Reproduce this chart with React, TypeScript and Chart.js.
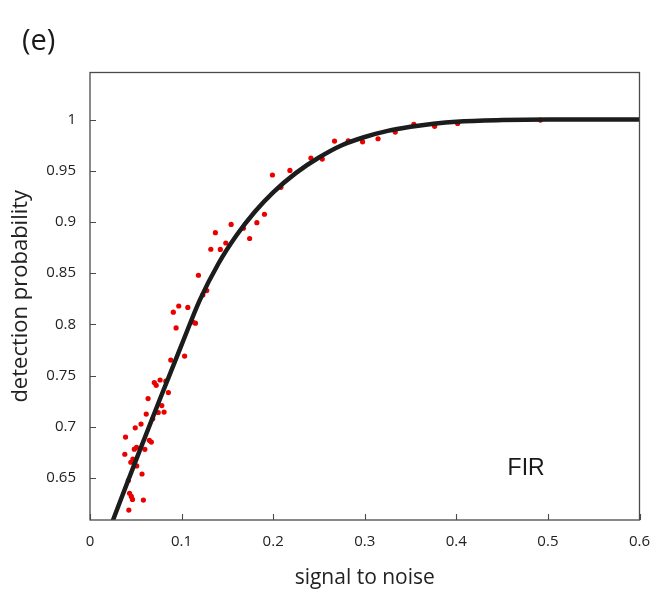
import React, { useEffect, useRef } from "react";
import { Chart, registerables } from "chart.js";
Chart.register(...registerables);

// ---- data ----
const curveX = [0.02, 0.026, 0.05, 0.075, 0.1, 0.12, 0.14, 0.16, 0.18, 0.2, 0.225, 0.25, 0.275, 0.3, 0.325, 0.35, 0.375, 0.4, 0.45, 0.5, 0.6];
const curveY = [0.597, 0.611, 0.667, 0.724, 0.78, 0.824, 0.859, 0.887, 0.91, 0.929, 0.948, 0.963, 0.975, 0.983, 0.989, 0.993, 0.996, 0.998, 0.9995, 1.0, 1.0];

const dotX = [
  0.3536, 0.3763, 0.4014, 0.4918, 0.3333, 0.3145, 0.2976, 0.282, 0.267, 0.2536,
  0.2412, 0.2183, 0.2084, 0.1992, 0.1905, 0.1822, 0.1743, 0.1675, 0.1541, 0.1483,
  0.1369, 0.1423, 0.1319, 0.1184, 0.1275, 0.1232, 0.0969, 0.091, 0.1068, 0.112,
  0.1151, 0.094, 0.1033, 0.0882, 0.0702, 0.0723, 0.0765, 0.0828, 0.0856, 0.0634,
  0.0784, 0.0614, 0.0745, 0.0809, 0.0685, 0.0557, 0.0494, 0.0388, 0.0648, 0.067,
  0.0508, 0.0484, 0.0599, 0.038, 0.0468, 0.0446, 0.051, 0.0568, 0.0419, 0.0432,
  0.0451, 0.0464, 0.0583, 0.0424,
];
const dotY = [
  0.9953, 0.9934, 0.9963, 0.9995, 0.9878, 0.9813, 0.9783, 0.9793, 0.979, 0.9615,
  0.9624, 0.9504, 0.9339, 0.9459, 0.9076, 0.8993, 0.8839, 0.8939, 0.8976, 0.8795,
  0.8896, 0.8732, 0.8734, 0.848, 0.833, 0.8288, 0.818, 0.8119, 0.8166, 0.8024,
  0.8012, 0.7966, 0.7691, 0.7652, 0.7432, 0.7405, 0.7457, 0.7446, 0.7334, 0.7276,
  0.7207, 0.7124, 0.714, 0.7144, 0.7078, 0.7027, 0.699, 0.69, 0.6868, 0.6851,
  0.68, 0.6782, 0.678, 0.6732, 0.6685, 0.6654, 0.6618, 0.6539, 0.6476, 0.6351,
  0.632, 0.6291, 0.6285, 0.6187,
];

const xTicks = [0, 0.1, 0.2, 0.3, 0.4, 0.5, 0.6];
const yTicks = [0.65, 0.7, 0.75, 0.8, 0.85, 0.9, 0.95, 1];
const xRange = [0, 0.6];
const yRange = [0.609, 1.046];

const xLabel = "signal to noise";
const yLabel = "detection probability";
const panelLabel = "(e)";
const annotText = "FIR";
const annotPos = [0.456, 0.6595];

const FONT = "'Open Sans', 'Noto Sans', sans-serif";

const framePlugin = {
  id: "matlabFrame",
  afterDatasetsDraw(chart: any) {
    const { ctx, chartArea: a, scales } = chart;
    const xs = scales.x;
    const ys = scales.y;
    ctx.save();
    ctx.strokeStyle = "#4a4a4a";
    ctx.lineWidth = 1.3;
    ctx.strokeRect(a.left, a.top, a.right - a.left, a.bottom - a.top);
    ctx.lineWidth = 1.1;
    ctx.beginPath();
    xs.ticks.forEach((t: any) => {
      const px = Math.round(xs.getPixelForValue(t.value)) + 0.5;
      ctx.moveTo(px, a.bottom);
      ctx.lineTo(px, a.bottom - 6);
    });
    ys.ticks.forEach((t: any) => {
      const py = Math.round(ys.getPixelForValue(t.value)) + 0.5;
      ctx.moveTo(a.left, py);
      ctx.lineTo(a.left + 6, py);
    });
    ctx.stroke();
    ctx.restore();
  },
  afterDraw(chart: any) {
    const { ctx, scales } = chart;
    ctx.save();
    ctx.fillStyle = "#1a1a1a";
    ctx.font = `29px ${FONT}`;
    ctx.textBaseline = "middle";
    ctx.textAlign = "left";
    ctx.fillText(panelLabel, 22, 42);
    ctx.font = `23px 'Liberation Sans', Arial, sans-serif`;
    ctx.fillText(annotText, scales.x.getPixelForValue(annotPos[0]), scales.y.getPixelForValue(annotPos[1]));
    ctx.restore();
  },
};

const fmt = (v: number) => String(parseFloat(Number(v).toFixed(2)));

export default function App() {
  const ref = useRef<HTMLCanvasElement | null>(null);
  useEffect(() => {
    if (!ref.current) return;
    const chart = new Chart(ref.current, {
      type: "scatter",
      data: {
        datasets: [
          {
            label: "fit",
            data: curveX.map((x, i) => ({ x, y: curveY[i] })),
            showLine: true,
            borderColor: "#1c1c1c",
            borderWidth: 4.5,
            pointRadius: 0,
            cubicInterpolationMode: "monotone",
            clip: 0,
            order: 0,
          } as any,
          {
            label: "measured",
            data: dotX.map((x, i) => ({ x, y: dotY[i] })),
            showLine: false,
            pointRadius: 2.6,
            pointBorderWidth: 0,
            backgroundColor: "rgb(235,0,0)",
            borderColor: "rgb(235,0,0)",
            clip: 0,
            order: 1,
          } as any,
        ],
      },
      options: {
        responsive: false,
        devicePixelRatio: 1,
        animation: false,
        layout: { padding: { left: 0, top: 72.5, right: 13.5, bottom: 0 } },
        plugins: { legend: { display: false }, tooltip: { enabled: false } },
        scales: {
          x: {
            type: "linear",
            position: "bottom",
            min: xRange[0],
            max: xRange[1],
            grid: { display: false },
            border: { display: false },
            afterBuildTicks: (s: any) => {
              s.ticks = xTicks.map((v) => ({ value: v }));
            },
            afterFit: (s: any) => {
              s.height = 76;
              s.paddingLeft = 0;
              s.paddingRight = 0;
            },
            ticks: {
              font: { family: FONT, size: 15 },
              color: "#222",
              padding: 5,
              maxRotation: 0,
              callback: (v: any) => fmt(v),
            },
            title: {
              display: true,
              text: xLabel,
              font: { family: FONT, size: 21 },
              color: "#222",
              padding: { top: 0, bottom: 5 },
            },
          },
          y: {
            type: "linear",
            position: "left",
            min: yRange[0],
            max: yRange[1],
            grid: { display: false },
            border: { display: false },
            afterBuildTicks: (s: any) => {
              s.ticks = yTicks.map((v) => ({ value: v }));
            },
            afterFit: (s: any) => {
              s.width = 90;
              s.paddingTop = 0;
              s.paddingBottom = 0;
            },
            ticks: {
              font: { family: FONT, size: 15 },
              color: "#222",
              padding: 6,
              callback: (v: any) => fmt(v),
            },
            title: {
              display: true,
              text: yLabel,
              font: { family: FONT, size: 22 },
              color: "#222",
              padding: { top: 8, bottom: 0 },
            },
          },
        },
      } as any,
      plugins: [framePlugin],
    });
    return () => chart.destroy();
  }, []);
  return (
    <div style={{ position: "absolute", left: 0, top: 0, width: 653, height: 596, background: "#fff" }}>
      <canvas ref={ref} width={653} height={596} style={{ display: "block" }} />
    </div>
  );
}
